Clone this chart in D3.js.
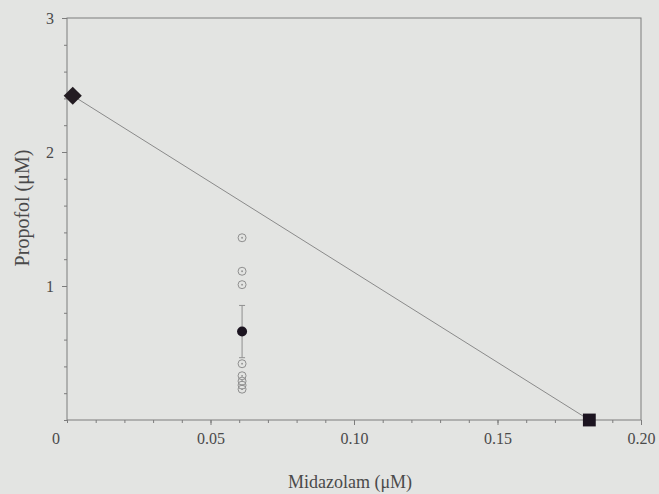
<!DOCTYPE html>
<html>
<head>
<meta charset="utf-8">
<script src="https://cdn.jsdelivr.net/npm/d3@7"></script>
<style>
  html, body { margin: 0; padding: 0; background: #e3e4e2; }
  svg { display: block; }
  text { font-family: "Liberation Serif", "Times New Roman", serif; fill: #4a4a4a; }
</style>
</head>
<body>
<svg id="chart" width="659" height="494"></svg>
<script>
// isobologram: propofol alone (diamond), midazolam alone (square), combinations
var xTicks = [0.05, 0.10, 0.15, 0.20];
var yTicks = [1, 2, 3];
var endPointsX = [0.002, 0.182];        // midazolam (uM)
var endPointsY = [2.42, 0];             // propofol (uM)
var comboX = 0.061;
var comboY = [1.36, 1.11, 1.01, 0.42, 0.33, 0.29, 0.26, 0.23];
var meanY = 0.66;
var meanErr = 0.195;

var svg = d3.select("#chart");
var x = d3.scaleLinear().domain([0, 0.2]).range([67, 641]);
var y = d3.scaleLinear().domain([0, 3]).range([420, 18]);
var axisCol = "#7c7c7c";

// frame
svg.append("rect")
  .attr("x", x(0)).attr("y", y(3))
  .attr("width", x(0.2) - x(0)).attr("height", y(0) - y(3))
  .style("fill", "none").style("stroke", axisCol).style("stroke-width", 1);

// minor ticks
var gxm = svg.append("g").attr("transform", "translate(0," + y(0) + ")")
  .call(d3.axisBottom(x).tickValues(d3.range(0, 0.2001, 0.01)).tickSize(3).tickFormat(""));
var gym = svg.append("g").attr("transform", "translate(" + x(0) + ",0)")
  .call(d3.axisLeft(y).tickValues(d3.range(0, 3.001, 0.2)).tickSize(3).tickFormat(""));

// major ticks + labels
var gx = svg.append("g").attr("transform", "translate(0," + y(0) + ")")
  .call(d3.axisBottom(x).tickValues(xTicks).tickSize(5).tickPadding(8)
    .tickFormat(d3.format(".2f")));
var gy = svg.append("g").attr("transform", "translate(" + x(0) + ",0)")
  .call(d3.axisLeft(y).tickValues(yTicks).tickSize(5).tickPadding(8)
    .tickFormat(d3.format("d")));

[gxm, gym, gx, gy].forEach(function(g) {
  g.select(".domain").remove();
  g.selectAll("line").style("stroke", axisCol);
  g.selectAll("text").style("font-family", "Liberation Serif").style("font-size", "16px").style("fill", "#4a4a4a");
});

svg.append("text").text("0")
  .attr("x", 56).attr("y", 444)
  .style("text-anchor", "middle").style("font-size", "16px");

// axis titles
svg.append("text").text("Midazolam (\u03bcM)")
  .attr("x", 350).attr("y", 488)
  .style("text-anchor", "middle").style("font-size", "18px");
svg.append("text").text("Propofol (\u03bcM)")
  .attr("transform", "translate(29,208) rotate(-90)")
  .style("text-anchor", "middle").style("font-size", "20px");

// additivity line
svg.append("line")
  .attr("x1", x(endPointsX[0])).attr("y1", y(endPointsY[0]))
  .attr("x2", x(endPointsX[1])).attr("y2", y(endPointsY[1]))
  .style("stroke", "#8a8a8a").style("stroke-width", 1);

// individual combination points
var open = svg.append("g").selectAll("g").data(comboY).enter().append("g")
  .attr("transform", function(d) { return "translate(" + x(comboX) + "," + y(d) + ")"; });
open.append("circle").attr("r", 4)
  .style("fill", "none").style("stroke", "#8f8f8f").style("stroke-width", 1);
open.append("circle").attr("r", 0.9).style("fill", "#8f8f8f");

// mean +/- error
svg.append("line")
  .attr("x1", x(comboX)).attr("x2", x(comboX))
  .attr("y1", y(meanY + meanErr)).attr("y2", y(meanY - meanErr))
  .style("stroke", "#8f8f8f");
[meanY + meanErr, meanY - meanErr].forEach(function(v) {
  svg.append("line")
    .attr("x1", x(comboX) - 3).attr("x2", x(comboX) + 3)
    .attr("y1", y(v)).attr("y2", y(v))
    .style("stroke", "#8f8f8f");
});
svg.append("circle")
  .attr("cx", x(comboX)).attr("cy", y(meanY)).attr("r", 5)
  .style("fill", "#1c1420");

// end points
svg.append("path")
  .attr("d", d3.symbol().type(d3.symbolSquare).size(165)())
  .attr("transform", "translate(" + x(endPointsX[0]) + "," + y(endPointsY[0]) + ") rotate(45)")
  .style("fill", "#231c22");
svg.append("path")
  .attr("d", d3.symbol().type(d3.symbolSquare).size(165)())
  .attr("transform", "translate(" + x(endPointsX[1]) + "," + y(endPointsY[1]) + ")")
  .style("fill", "#1c1420");
</script>
</body>
</html>
